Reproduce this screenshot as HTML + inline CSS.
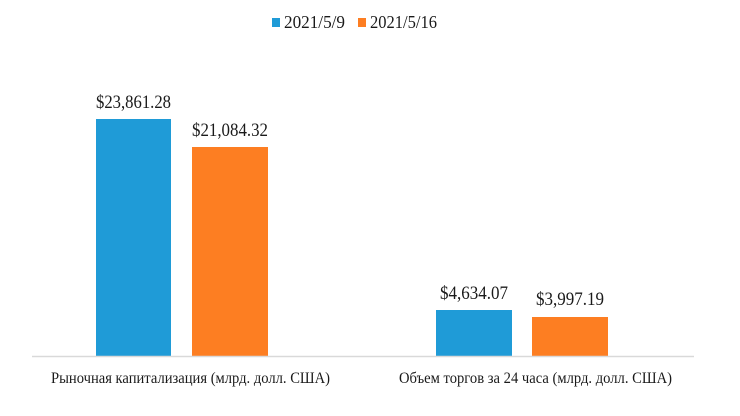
<!DOCTYPE html>
<html><head><meta charset="utf-8"><style>body{margin:0;background:#fff}svg{display:block}text{font-family:"Liberation Serif","Times New Roman",serif;fill:#1a1a1a}</style></head>
<body>
<svg width="740" height="416" xmlns="http://www.w3.org/2000/svg">
<rect x="0" y="0" width="740" height="416" fill="#fff"/>
<rect x="272" y="18" width="8" height="9" fill="#1f9bd7"/>
<text x="284" y="28" font-size="18" textLength="61" lengthAdjust="spacingAndGlyphs">2021/5/9</text>
<rect x="358" y="18" width="8" height="9" fill="#fd7e22"/>
<text x="370" y="28" font-size="18" textLength="67" lengthAdjust="spacingAndGlyphs">2021/5/16</text>
<rect x="96" y="119" width="75" height="237" fill="#1f9bd7"/>
<rect x="192" y="147" width="76" height="209" fill="#fd7e22"/>
<rect x="436" y="310" width="76" height="46" fill="#1f9bd7"/>
<rect x="532" y="317" width="76" height="39" fill="#fd7e22"/>
<line x1="32" y1="356.5" x2="694" y2="356.5" stroke="#d9d9d9" stroke-width="1.5"/>
<text x="96" y="108" font-size="19" textLength="75" lengthAdjust="spacingAndGlyphs">$23,861.28</text>
<text x="192" y="136" font-size="19" textLength="76" lengthAdjust="spacingAndGlyphs">$21,084.32</text>
<text x="440" y="299" font-size="19" textLength="68" lengthAdjust="spacingAndGlyphs">$4,634.07</text>
<text x="536" y="305" font-size="19" textLength="68" lengthAdjust="spacingAndGlyphs">$3,997.19</text>
<text x="51" y="383" font-size="16" textLength="279" lengthAdjust="spacingAndGlyphs">Рыночная капитализация (млрд. долл. США)</text>
<text x="399" y="383" font-size="16" textLength="273" lengthAdjust="spacingAndGlyphs">Объем торгов за 24 часа (млрд. долл. США)</text>
</svg>
</body></html>
